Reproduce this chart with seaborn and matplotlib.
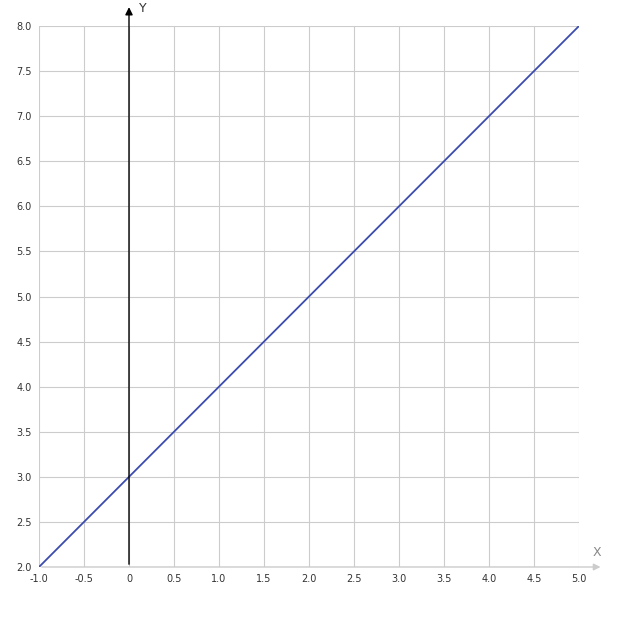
import matplotlib.pyplot as plt
import numpy as np
import pandas as pd
import seaborn as sns

# data: y = x + 3 sampled at the ends of the visible range
x_vals = [-1.0, 5.0]
y_vals = [2.0, 8.0]

x_ticks = [-1.0, -0.5, 0.0, 0.5, 1.0, 1.5, 2.0, 2.5, 3.0, 3.5, 4.0, 4.5, 5.0]
x_tick_labels = ["-1.0", "-0.5", "0", "0.5", "1.0", "1.5", "2.0", "2.5",
                 "3.0", "3.5", "4.0", "4.5", "5.0"]
y_ticks = [2.0, 2.5, 3.0, 3.5, 4.0, 4.5, 5.0, 5.5, 6.0, 6.5, 7.0, 7.5, 8.0]
y_tick_labels = [f"{v:.1f}" for v in y_ticks]

sns.set_style("white")
plt.rcParams["font.family"] = ["DejaVu Sans"]

df = pd.DataFrame({"x": x_vals, "y": y_vals})

fig = plt.figure(figsize=(6.38, 6.24), dpi=100)
ax = fig.add_axes([39 / 638, 57 / 624, 540 / 638, 541 / 624])

sns.lineplot(data=df, x="x", y="y", color="#3c4cae", linewidth=1.3, ax=ax, zorder=3)

ax.set_xlim(-1, 5)
ax.set_ylim(2, 8)
ax.set_xticks(x_ticks)
ax.set_xticklabels(x_tick_labels)
ax.set_yticks(y_ticks)
ax.set_yticklabels(y_tick_labels)
ax.tick_params(length=0, labelsize=7, colors="#333333", pad=5)
ax.grid(True, color="#cccccc", linewidth=0.8)
for s in ax.spines.values():
    s.set_visible(False)
ax.set_xlabel("")
ax.set_ylabel("")

# x axis (gray, with arrow past the end)
ax.annotate("", xy=(5.27, 2), xytext=(-1, 2),
            arrowprops=dict(arrowstyle="-|>", color="#cccccc", lw=1.0,
                            mutation_scale=10),
            annotation_clip=False)
ax.text(5.15, 2.12, "X", color="#888888", fontsize=9, clip_on=False)

# y axis (black, at x=0)
ax.annotate("", xy=(0, 8.24), xytext=(0, 2),
            arrowprops=dict(arrowstyle="-|>", color="black", lw=1.0,
                            mutation_scale=11),
            annotation_clip=False)
ax.text(0.11, 8.15, "Y", color="#333333", fontsize=9, clip_on=False)

plt.savefig("out.png", dpi=100)
plt.close()
